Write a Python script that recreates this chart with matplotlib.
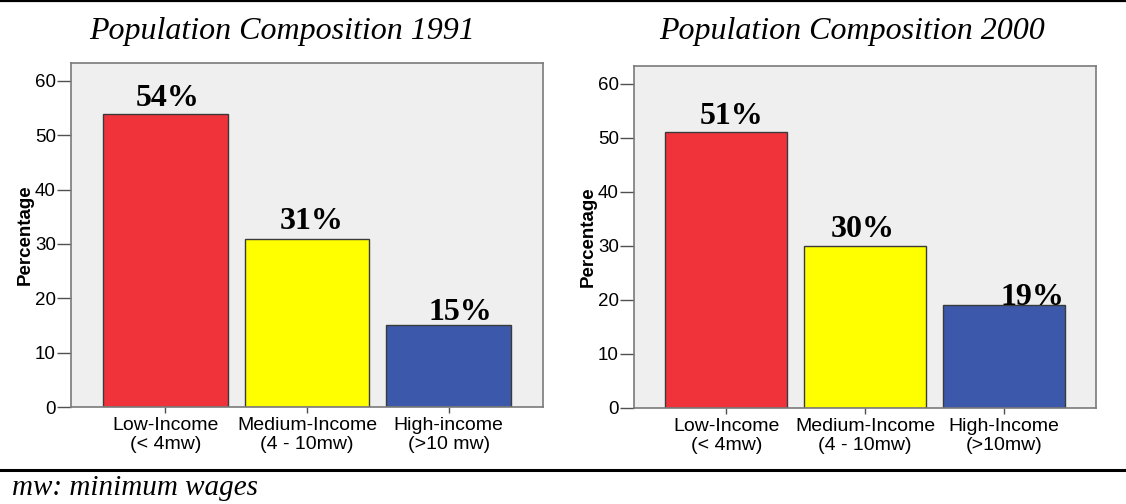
import matplotlib
matplotlib.use("Agg")
import matplotlib.pyplot as plt
from matplotlib.lines import Line2D

# ---- data ----
categories_1991 = ["Low-Income\n(< 4mw)", "Medium-Income\n(4 - 10mw)", "High-income\n(>10 mw)"]
categories_2000 = ["Low-Income\n(< 4mw)", "Medium-Income\n(4 - 10mw)", "High-Income\n(>10mw)"]
values_1991 = [54, 31, 15]
values_2000 = [51, 30, 19]
labels_1991 = ["54%", "31%", "15%"]
labels_2000 = ["51%", "30%", "19%"]
yticks = [0, 10, 20, 30, 40, 50, 60]
titles = ["Population Composition 1991", "Population Composition 2000"]
footnote = "mw: minimum wages"

# ---- style ----
bar_colors = ["#F0323A", "#FFFF00", "#3C58AA"]
bg = "#EFEFEF"
edge = "#3A3A3A"
spine_col = "#7A7A7A"
serif = ["Liberation Serif", "DejaVu Serif"]
sans = ["Liberation Sans", "DejaVu Sans"]

# label placement tweaks (x offset in px, gap above bar in px)
dx_1991 = [2, 5, 12]
gap_1991 = [8, 10, 5]
dx_2000 = [5, -2, 29]
gap_2000 = [8, 9, 0]

W, H = 1126, 504
fig = plt.figure(figsize=(W / 100, H / 100), dpi=100)

def rect(x0, y0, x1, y1):
    return [x0 / W, 1 - y1 / H, (x1 - x0) / W, (y1 - y0) / H]

ax1 = fig.add_axes(rect(71, 63, 543, 407))
ax2 = fig.add_axes(rect(634, 66, 1096, 408))

def draw(ax, cats, vals, labs, dxs, gaps, title, title_x):
    x = list(range(len(vals)))
    ax.bar(x, vals, width=0.88, color=bar_colors, edgecolor=edge, linewidth=1.0, zorder=2)
    ax.set_facecolor(bg)
    ax.set_xlim(-0.665, len(vals) - 1 + 0.665)
    ax.set_ylim(0, 63.3)
    ax.set_yticks(yticks)
    ax.set_yticklabels([str(t) for t in yticks], fontfamily=sans, fontsize=13.5)
    ax.set_xticks(x)
    ax.set_xticklabels(cats, fontfamily=sans, fontsize=14, linespacing=1.12)
    ax.tick_params(axis="y", length=10, width=1, color="#505050", pad=1)
    ax.tick_params(axis="x", length=4.5, width=1, color="#505050", pad=3)
    for s in ax.spines.values():
        s.set_color(spine_col)
        s.set_linewidth(1.2)
    ax.set_ylabel("Percentage", fontfamily=sans, fontsize=13.5, fontweight="bold", labelpad=1)
    for xi, v, lab, dx, g in zip(x, vals, labs, dxs, gaps):
        ax.annotate(lab, (xi, v), xytext=(dx * 0.72, g * 0.72), textcoords="offset points",
                    ha="center", va="baseline", fontfamily=serif, fontweight="bold",
                    fontsize=23, zorder=3)
    fig.text(title_x / W, 1 - 39 / H, title, ha="center", va="baseline",
             fontfamily=serif, fontstyle="italic", fontsize=23)

draw(ax1, categories_1991, values_1991, labels_1991, dx_1991, gap_1991, titles[0], 282)
draw(ax2, categories_2000, values_2000, labels_2000, dx_2000, gap_2000, titles[1], 852)

# rules
fig.add_artist(Line2D([0, 1], [1 - 1 / H, 1 - 1 / H], transform=fig.transFigure,
                      color="black", linewidth=1.6))
fig.add_artist(Line2D([0, 1], [1 - 470 / H, 1 - 470 / H], transform=fig.transFigure,
                      color="black", linewidth=2.2))
fig.text(12 / W, 1 - 495 / H, footnote, ha="left", va="baseline",
         fontfamily=serif, fontstyle="italic", fontsize=21)

fig.savefig("out.png", dpi=100)
